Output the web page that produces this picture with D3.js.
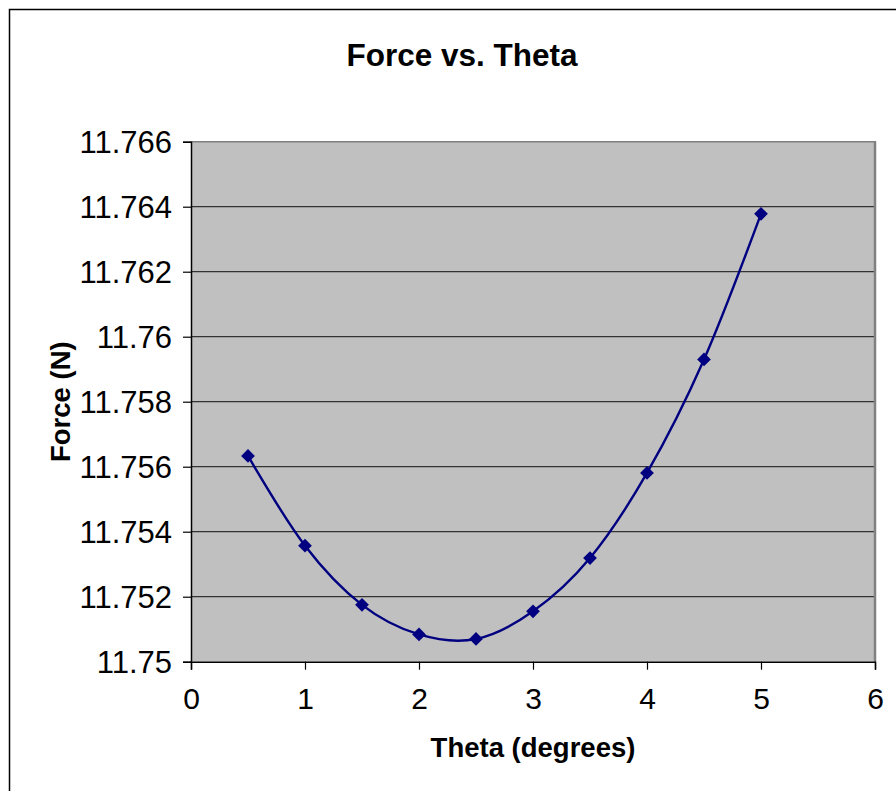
<!DOCTYPE html>
<html>
<head>
<meta charset="utf-8">
<script src="https://cdn.jsdelivr.net/npm/d3@7"></script>
<style>
  html, body { margin: 0; padding: 0; background: #fff; }
  svg { display: block; }
  text { font-family: "Liberation Sans", Arial, sans-serif; fill: #000; }
</style>
</head>
<body>
<script>
const theta = [0.5, 1, 1.5, 2, 2.5, 3, 3.5, 4, 4.5, 5];
const force = [11.75633, 11.75357, 11.75175, 11.75084, 11.75070, 11.75155, 11.75319, 11.75581, 11.75930, 11.76378];
const xTicks = [0, 1, 2, 3, 4, 5, 6];
const yTicks = [11.75, 11.752, 11.754, 11.756, 11.758, 11.76, 11.762, 11.764, 11.766];
const titleText = "Force vs. Theta";
const xTitle = "Theta (degrees)";
const yTitle = "Force (N)";

const W = 896, H = 791;
const plot = { left: 191, top: 141.7, right: 875, bottom: 661.7 };

const svg = d3.select("body").append("svg").attr("width", W).attr("height", H);

// outer chart border
svg.append("rect").attr("x", 9.5).attr("y", 9.5).attr("width", 920).attr("height", 820)
  .attr("fill", "#fff").attr("stroke", "#000").attr("stroke-width", 1.5);

const x = d3.scaleLinear().domain([0, 6]).range([plot.left, plot.right]);
const y = d3.scaleLinear().domain([11.75, 11.766]).range([plot.bottom, plot.top]);

// plot area
svg.append("rect").attr("x", plot.left).attr("y", plot.top)
  .attr("width", plot.right - plot.left).attr("height", plot.bottom - plot.top)
  .attr("fill", "#c0c0c0");

// gridlines
svg.append("g").selectAll("line").data(yTicks.slice(1, -1)).join("line")
  .attr("x1", plot.left).attr("x2", plot.right)
  .attr("y1", d => y(d)).attr("y2", d => y(d))
  .attr("stroke", "#333").attr("stroke-width", 1.2);

// top and right border (gray)
svg.append("line").attr("x1", plot.left).attr("x2", plot.right + 1)
  .attr("y1", plot.top).attr("y2", plot.top).attr("stroke", "#808080").attr("stroke-width", 1.5);
svg.append("line").attr("x1", plot.right).attr("x2", plot.right)
  .attr("y1", plot.top).attr("y2", plot.bottom).attr("stroke", "#808080").attr("stroke-width", 2.5);

// axes
const yAxis = d3.axisLeft(y).tickValues(yTicks).tickSize(8).tickPadding(10)
  .tickFormat(d => String(+d.toFixed(3)));
const gy = svg.append("g").attr("transform", `translate(${plot.left},0)`).call(yAxis);
gy.select(".domain").attr("stroke", "#000").attr("stroke-width", 1.5);
gy.selectAll(".tick line").attr("stroke", "#000").attr("stroke-width", 1.2);
gy.selectAll(".tick text").style("font-size", "31px").attr("x", -19).attr("dy", "0.36em");

const xAxis = d3.axisBottom(x).tickValues(xTicks).tickSize(8).tickPadding(10)
  .tickFormat(d3.format("d"));
const gx = svg.append("g").attr("transform", `translate(0,${plot.bottom})`).call(xAxis);
gx.select(".domain").attr("stroke", "#000").attr("stroke-width", 1.5);
gx.selectAll(".tick line").attr("stroke", "#000").attr("stroke-width", 1.2);
gx.selectAll(".tick text").style("font-size", "30px").attr("y", 26).attr("dy", "0.71em");

// smooth line
const line = d3.line().x((d, i) => x(theta[i])).y(d => y(d)).curve(d3.curveCardinal.tension(0));
svg.append("path").datum(force).attr("d", line)
  .attr("fill", "none").attr("stroke", "#000080").attr("stroke-width", 2.4);

// diamond markers
const sym = d3.symbol().type(d3.symbolDiamond2).size(120);
svg.append("g").selectAll("path").data(force).join("path")
  .attr("d", sym)
  .attr("transform", (d, i) => `translate(${x(theta[i])},${y(d)})`)
  .attr("fill", "#000080");

// titles
svg.append("text").attr("x", 462).attr("y", 66).attr("text-anchor", "middle")
  .style("font-size", "31.5px").style("font-weight", "bold").text(titleText);
svg.append("text").attr("x", (plot.left + plot.right) / 2).attr("y", 757).attr("text-anchor", "middle")
  .style("font-size", "27.5px").style("font-weight", "bold").text(xTitle);
svg.append("text").attr("transform", `translate(70,${(plot.top + plot.bottom) / 2}) rotate(-90)`)
  .attr("text-anchor", "middle")
  .style("font-size", "27.5px").style("font-weight", "bold").text(yTitle);
</script>
</body>
</html>
